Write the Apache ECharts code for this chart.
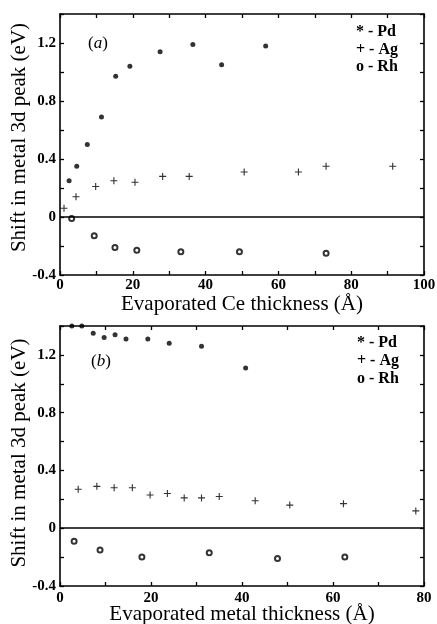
<!DOCTYPE html>
<html>
<head>
<meta charset="utf-8">
<script src="https://cdn.jsdelivr.net/npm/echarts@6/dist/echarts.min.js"></script>
<style>
html,body{margin:0;padding:0;background:#fff;}
#main{width:437px;height:624px;}
</style>
</head>
<body>
<div id="main"></div>
<script>
// Panel (a): shift vs evaporated Ce thickness
const pdA_x = [2.5, 4.6, 7.5, 11.4, 15.3, 19.2, 27.5, 36.5, 44.4, 56.5];
const pdA_y = [0.25, 0.35, 0.50, 0.69, 0.97, 1.04, 1.14, 1.19, 1.05, 1.18];
const agA_x = [1.1, 4.4, 9.8, 14.8, 20.6, 28.2, 35.5, 50.6, 65.5, 73.1, 91.4];
const agA_y = [0.06, 0.14, 0.21, 0.25, 0.24, 0.28, 0.28, 0.31, 0.31, 0.35, 0.35];
const rhA_x = [3.2, 9.4, 15.1, 21.1, 33.2, 49.3, 73.1];
const rhA_y = [-0.01, -0.13, -0.21, -0.23, -0.24, -0.24, -0.25];

// Panel (b): shift vs evaporated metal thickness
const pdB_x = [2.6, 4.8, 7.3, 9.7, 12.1, 14.5, 19.3, 24.0, 31.1, 40.8];
const pdB_y = [1.40, 1.40, 1.35, 1.32, 1.34, 1.31, 1.31, 1.28, 1.26, 1.11];
const agB_x = [4.0, 8.1, 11.9, 15.9, 19.8, 23.6, 27.3, 31.1, 35.0, 42.9, 50.5, 62.3, 78.2];
const agB_y = [0.27, 0.29, 0.28, 0.28, 0.23, 0.24, 0.21, 0.21, 0.22, 0.19, 0.16, 0.17, 0.12];
const rhB_x = [3.1, 8.8, 18.0, 32.8, 47.8, 62.6];
const rhB_y = [-0.09, -0.15, -0.20, -0.17, -0.21, -0.20];

const xTitleA = 'Evaporated Ce thickness (Å)';
const xTitleB = 'Evaporated metal thickness (Å)';
const yTitle = 'Shift in metal 3d peak (eV)';
const legendLabels = ['* - Pd', '+ - Ag', 'o - Rh'];

const FONT = 'Liberation Serif';
const zip = (xs, ys) => xs.map((x, i) => [x, ys[i]]);

const lineStyle = { color: '#000', width: 1.6 };
const tickStyle = { show: true, inside: true, length: 4, lineStyle: { color: '#000', width: 1.3 } };

function xLabelFmt(v) { return (Math.round(v) % 20 === 0) ? String(Math.round(v)) : ''; }
function yLabelFmt(v) {
  const k = Math.round(v * 10);
  if (k % 4 !== 0) return '';
  if (k === 0) return '0';
  return (k / 10).toFixed(1);
}

function mkX(gridIndex, max, title, mirror, gap, lblMargin) {
  return {
    type: 'value', gridIndex: gridIndex, min: 0, max: max, interval: 10,
    position: mirror ? 'top' : 'bottom',
    axisLine: { show: true, onZero: false, lineStyle: lineStyle },
    axisTick: tickStyle,
    splitLine: { show: false },
    axisLabel: mirror ? { show: false } : {
      show: true, formatter: xLabelFmt, margin: lblMargin || 3, color: '#000',
      fontFamily: FONT, fontSize: 15, fontWeight: 'bold'
    },
    name: mirror ? '' : title,
    nameLocation: 'middle', nameGap: gap || 19, nameMoveOverlap: false,
    nameTextStyle: { fontFamily: FONT, fontSize: 21, color: '#000' }
  };
}
function mkY(gridIndex, mirror, shift) {
  return {
    type: 'value', gridIndex: gridIndex, min: -0.4, max: 1.4, interval: 0.2,
    position: mirror ? 'right' : 'left',
    axisLine: { show: true, onZero: false, lineStyle: lineStyle },
    axisTick: tickStyle,
    splitLine: { show: false },
    axisLabel: mirror ? { show: false } : {
      show: true, formatter: yLabelFmt, margin: 4, color: '#000',
      fontFamily: FONT, fontSize: 15, fontWeight: 'bold'
    },
    name: mirror ? '' : yTitle,
    nameLocation: 'middle', nameGap: 30, nameRotate: 90, nameMoveOverlap: false,
    nameTextStyle: { fontFamily: FONT, fontSize: 21, color: '#000', padding: [0, 0, 0, shift || 0] }
  };
}

const pdSym = 'circle';
const agSym = 'path://M4.2,0H5.8V4.2H10V5.8H5.8V10H4.2V5.8H0V4.2H4.2Z';

function mkSeries(name, data, xi, yi, kind, zero) {
  const s = {
    name: name, type: 'scatter', xAxisIndex: xi, yAxisIndex: yi, data: data,
    silent: true, clip: false
  };
  if (kind === 'pd') { s.symbol = pdSym; s.symbolSize = 5; s.itemStyle = { color: '#000' }; }
  if (kind === 'ag') { s.symbol = agSym; s.symbolSize = 7; s.itemStyle = { color: '#000' }; }
  if (kind === 'rh') { s.symbol = 'emptyCircle'; s.symbolSize = 5; s.itemStyle = { color: '#000', borderWidth: 1.5 }; }
  if (zero) {
    s.markLine = {
      silent: true, symbol: 'none', label: { show: false },
      lineStyle: { color: '#000', width: 1.6, type: 'solid' },
      data: [{ yAxis: 0 }]
    };
  }
  return s;
}

function legendTexts(x, ys) {
  return legendLabels.map((t, i) => ({
    type: 'text', left: x, top: ys[i],
    style: { text: t, fontFamily: FONT, fontSize: 16, fontWeight: 'bold', fill: '#000' }
  }));
}
function panelLabel(letter, x, y) {
  return {
    type: 'text', left: x, top: y,
    style: {
      text: '{p|(}{i|' + letter + '}{p|)}',
      rich: {
        p: { fontFamily: FONT, fontSize: 17, fill: '#000' },
        i: { fontFamily: FONT, fontSize: 17, fontStyle: 'italic', fill: '#000' }
      }
    }
  };
}

const option = {
  backgroundColor: '#fff',
  animation: false,
  grid: [
    { left: 60, right: 13, top: 14, height: 261, containLabel: false, outerBoundsMode: 'none' },
    { left: 60, right: 13, top: 326, height: 260, containLabel: false, outerBoundsMode: 'none' }
  ],
  xAxis: [
    mkX(0, 100, xTitleA, false, 19, 3), mkX(0, 100, '', true),
    mkX(1, 80, xTitleB, false, 18, 5), mkX(1, 80, '', true)
  ],
  yAxis: [
    mkY(0, false, 14), mkY(0, true),
    mkY(1, false, 6), mkY(1, true)
  ],
  series: [
    mkSeries('Pd', zip(pdA_x, pdA_y), 0, 0, 'pd', true),
    mkSeries('Ag', zip(agA_x, agA_y), 0, 0, 'ag', false),
    mkSeries('Rh', zip(rhA_x, rhA_y), 0, 0, 'rh', false),
    mkSeries('Pd', zip(pdB_x, pdB_y), 2, 2, 'pd', true),
    mkSeries('Ag', zip(agB_x, agB_y), 2, 2, 'ag', false),
    mkSeries('Rh', zip(rhB_x, rhB_y), 2, 2, 'rh', false)
  ],
  graphic: [].concat(
    legendTexts(356, [24, 42, 59]),
    legendTexts(357, [335, 353, 371]),
    [panelLabel('a', 88, 35), panelLabel('b', 91, 353)]
  )
};

const chart = echarts.init(document.getElementById('main'), null, { renderer: 'canvas' });
chart.setOption(option);
</script>
</body>
</html>
